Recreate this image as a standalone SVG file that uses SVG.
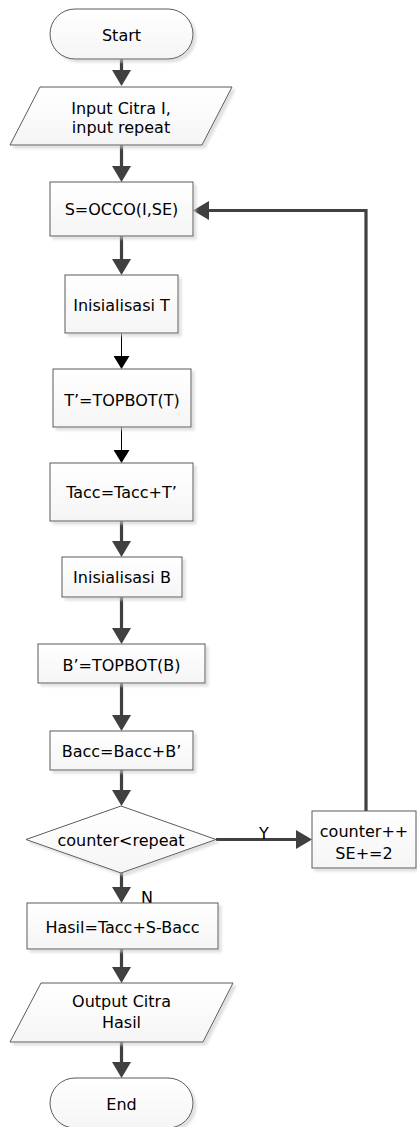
<svg xmlns="http://www.w3.org/2000/svg" width="417" height="1127" viewBox="0 0 417 1127">
  <defs>
    <linearGradient id="fillGrad" x1="0" y1="0" x2="0" y2="1">
      <stop offset="0" stop-color="#ffffff"/>
      <stop offset="1" stop-color="#f5f5f5"/>
    </linearGradient>
    <filter id="shadow" x="-10%" y="-10%" width="130%" height="140%">
      <feDropShadow dx="3" dy="3" stdDeviation="1" flood-color="#cccccc" flood-opacity="0.6"/>
    </filter>
    <marker id="arrThick" markerUnits="userSpaceOnUse" markerWidth="16" markerHeight="19" refX="8" refY="9.5" orient="auto">
      <path d="M0,0 L16,9.5 L0,19 z" fill="#404040"/>
    </marker>
    <marker id="arrThin" markerUnits="userSpaceOnUse" markerWidth="13" markerHeight="16" refX="6.5" refY="8" orient="auto">
      <path d="M0,0 L13,8 L0,16 z" fill="#000000"/>
    </marker>
  </defs>
  <style>
    .shape { fill: url(#fillGrad); stroke: #5a5a5a; stroke-width: 1; filter: url(#shadow); }
    .lbl { font-family: "DejaVu Sans", sans-serif; font-size: 16px; fill: #000000; text-anchor: middle; }
    .edge { font-family: "DejaVu Sans", sans-serif; font-size: 16px; fill: #000000; text-anchor: middle; }
    .thick { fill: none; stroke: #404040; stroke-width: 3.2; marker-end: url(#arrThick); }
    .thin { fill: none; stroke: #000000; stroke-width: 1; marker-end: url(#arrThin); }
  </style>

  <g id="connectors">
    <path class="thick" d="M121.5,59 V78"/>
    <path class="thick" d="M121.5,145 V174"/>
    <path class="thick" d="M121.5,236 V267"/>
    <path class="thin" d="M121.5,333 V362.5"/>
    <path class="thin" d="M121.5,427 V456.5"/>
    <path class="thick" d="M121.5,521 V549"/>
    <path class="thick" d="M121.5,597 V636"/>
    <path class="thick" d="M121.5,683 V723"/>
    <path class="thick" d="M121.5,770 V798"/>
    <path class="thick" d="M216,839.5 H304"/>
    <path class="thick" d="M366,811 V210.5 H201"/>
    <path class="thick" d="M121.5,873 V895"/>
    <path class="thick" d="M121.5,949 V975"/>
    <path class="thick" d="M121.5,1042 V1070"/>
    <text class="edge" x="264" y="839">Y</text>
    <text class="edge" x="147" y="903">N</text>
  </g>

  <g id="start">
    <rect class="shape" x="50" y="9" width="143" height="50" rx="25" ry="25"/>
    <text class="lbl" x="121.5" y="41">Start</text>
  </g>

  <g id="input">
    <polygon class="shape" points="40,87 232,87 202,145 10,145"/>
    <text class="lbl" x="121" y="114">Input Citra I,</text>
    <text class="lbl" x="121" y="133">input repeat</text>
  </g>

  <g id="occo">
    <rect class="shape" x="50" y="182" width="143" height="54"/>
    <text class="lbl" x="121.5" y="214.5">S=OCCO(I,SE)</text>
  </g>

  <g id="initT">
    <rect class="shape" x="65" y="275" width="113" height="58"/>
    <text class="lbl" x="121.5" y="310.5">Inisialisasi T</text>
  </g>

  <g id="topbotT">
    <rect class="shape" x="53" y="369" width="138" height="58"/>
    <text class="lbl" x="122" y="405.5">T’=TOPBOT(T)</text>
  </g>

  <g id="tacc">
    <rect class="shape" x="50" y="463" width="143" height="58"/>
    <text class="lbl" x="121.5" y="498">Tacc=Tacc+T’</text>
  </g>

  <g id="initB">
    <rect class="shape" x="62" y="557" width="120" height="40"/>
    <text class="lbl" x="122" y="582.5">Inisialisasi B</text>
  </g>

  <g id="topbotB">
    <rect class="shape" x="38" y="644" width="167" height="39"/>
    <text class="lbl" x="121.5" y="671">B’=TOPBOT(B)</text>
  </g>

  <g id="bacc">
    <rect class="shape" x="50" y="731" width="143" height="39"/>
    <text class="lbl" x="121.5" y="757">Bacc=Bacc+B’</text>
  </g>

  <g id="decision">
    <polygon class="shape" points="121,806 216,839.5 121,873 26,839.5"/>
    <text class="lbl" x="121" y="846">counter&lt;repeat</text>
  </g>

  <g id="counter">
    <rect class="shape" x="312" y="811" width="104" height="57"/>
    <text class="lbl" x="364" y="836.5">counter++</text>
    <text class="lbl" x="364" y="859">SE+=2</text>
  </g>

  <g id="hasil">
    <rect class="shape" x="27" y="903" width="191" height="46"/>
    <text class="lbl" x="122.5" y="933">Hasil=Tacc+S-Bacc</text>
  </g>

  <g id="output">
    <polygon class="shape" points="41,983 233,983 203,1042 10,1042"/>
    <text class="lbl" x="121.5" y="1007">Output Citra</text>
    <text class="lbl" x="121.5" y="1028">Hasil</text>
  </g>

  <g id="end">
    <rect class="shape" x="50" y="1078" width="143" height="50" rx="25" ry="25"/>
    <text class="lbl" x="121.5" y="1110">End</text>
  </g>
</svg>
